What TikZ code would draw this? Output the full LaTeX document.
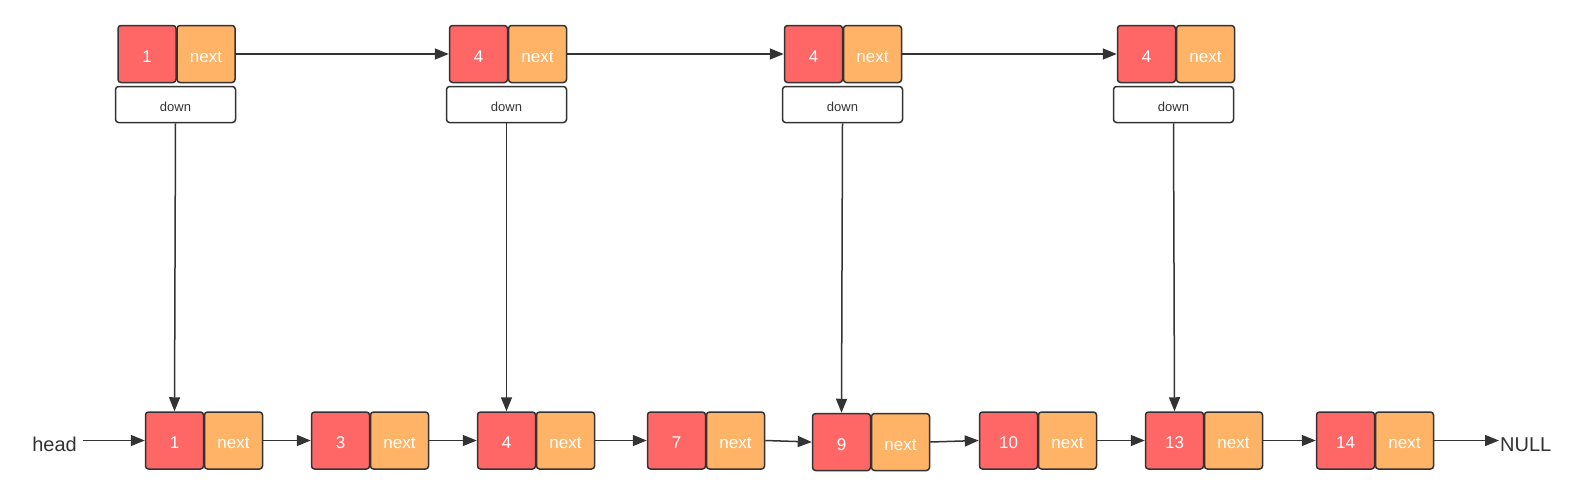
\documentclass[tikz,border=0pt]{standalone}
\usepackage{fontspec}
\setmainfont{Liberation Sans}
\usetikzlibrary{arrows.meta}

\definecolor{keyred}{RGB}{255,102,102}
\definecolor{nextorange}{RGB}{255,179,102}
\definecolor{edge}{RGB}{51,51,51}

\tikzset{
	keybox/.style={draw=edge, fill=keyred, line width=1.5pt, rounded corners=3pt, minimum width=58pt, minimum height=57pt, inner sep=0pt, text height=16pt, text depth=0pt, text=white, font=\fontsize{17}{17}\selectfont},
	nextbox/.style={keybox, fill=nextorange},
	downbox/.style={draw=edge, fill=white, line width=1.5pt, rounded corners=3pt, minimum width=120pt, minimum height=36pt, inner sep=0pt, text height=13pt, text depth=0pt, text=edge, font=\fontsize{13}{13}\selectfont},
	label/.style={text=edge, inner sep=1pt, font=\fontsize{20}{20}\selectfont},
	link/.style={draw=edge, line width=1.5pt, -{Triangle[length=14pt,width=11pt]}}
}

\begin{document}
\begin{tikzpicture}[x=1pt, y=-1pt]
	\useasboundingbox (0, 0) rectangle (1580, 496);

	% top level
	\node[keybox] (t1) at (147, 54) {1};
	\node[nextbox] (t1n) at (206, 54) {next};
	\node[downbox] (t1d) at (175.5, 104.5) {down};
	\node[keybox] (t2) at (478.5, 54) {4};
	\node[nextbox] (t2n) at (537.5, 54) {next};
	\node[downbox] (t2d) at (506.5, 104.5) {down};
	\node[keybox] (t3) at (813.5, 54) {4};
	\node[nextbox] (t3n) at (872.5, 54) {next};
	\node[downbox] (t3d) at (842.5, 104.5) {down};
	\node[keybox] (t4) at (1146.5, 54) {4};
	\node[nextbox] (t4n) at (1205.5, 54) {next};
	\node[downbox] (t4d) at (1173.5, 104.5) {down};

	% bottom level
	\node[label, anchor=base east] (head) at (78, 451) {head};
	\node[keybox] (b1) at (174.5, 440.5) {1};
	\node[nextbox] (b1n) at (233.5, 440.5) {next};
	\node[keybox] (b2) at (340.5, 440.5) {3};
	\node[nextbox] (b2n) at (399.5, 440.5) {next};
	\node[keybox] (b3) at (506.5, 440.5) {4};
	\node[nextbox] (b3n) at (565.5, 440.5) {next};
	\node[keybox] (b4) at (676.5, 440.5) {7};
	\node[nextbox] (b4n) at (735.5, 440.5) {next};
	\node[keybox] (b5) at (841.5, 442) {9};
	\node[nextbox] (b5n) at (900.5, 442) {next};
	\node[keybox] (b6) at (1008.5, 440.5) {10};
	\node[nextbox] (b6n) at (1067.5, 440.5) {next};
	\node[keybox] (b7) at (1174.5, 440.5) {13};
	\node[nextbox] (b7n) at (1233.5, 440.5) {next};
	\node[keybox] (b8) at (1345.5, 440.5) {14};
	\node[nextbox] (b8n) at (1404.5, 440.5) {next};
	\node[label, anchor=base west] (null) at (1499, 451) {NULL};

	% next pointers
	\draw[link] (t1n.east) -- (t2.west);
	\draw[link] (t2n.east) -- (t3.west);
	\draw[link] (t3n.east) -- (t4.west);
	\draw[link] ([xshift=5pt]head.east |- b1.west) -- (b1.west);
	\draw[link] (b1n.east) -- (b2.west);
	\draw[link] (b2n.east) -- (b3.west);
	\draw[link] (b3n.east) -- (b4.west);
	\draw[link] (b4n.east) -- (b5.west);
	\draw[link] (b5n.east) -- (b6.west);
	\draw[link] (b6n.east) -- (b7.west);
	\draw[link] (b7n.east) -- (b8.west);
	\draw[link] (b8n.east) -- (null.west |- b8n.east);

	% down pointers
	\draw[link] (t1d.south) -- (b1.north);
	\draw[link] (t2d.south) -- (b3.north);
	\draw[link] (t3d.south) -- (b5.north);
	\draw[link] (t4d.south) -- (b7.north);
\end{tikzpicture}
\end{document}
